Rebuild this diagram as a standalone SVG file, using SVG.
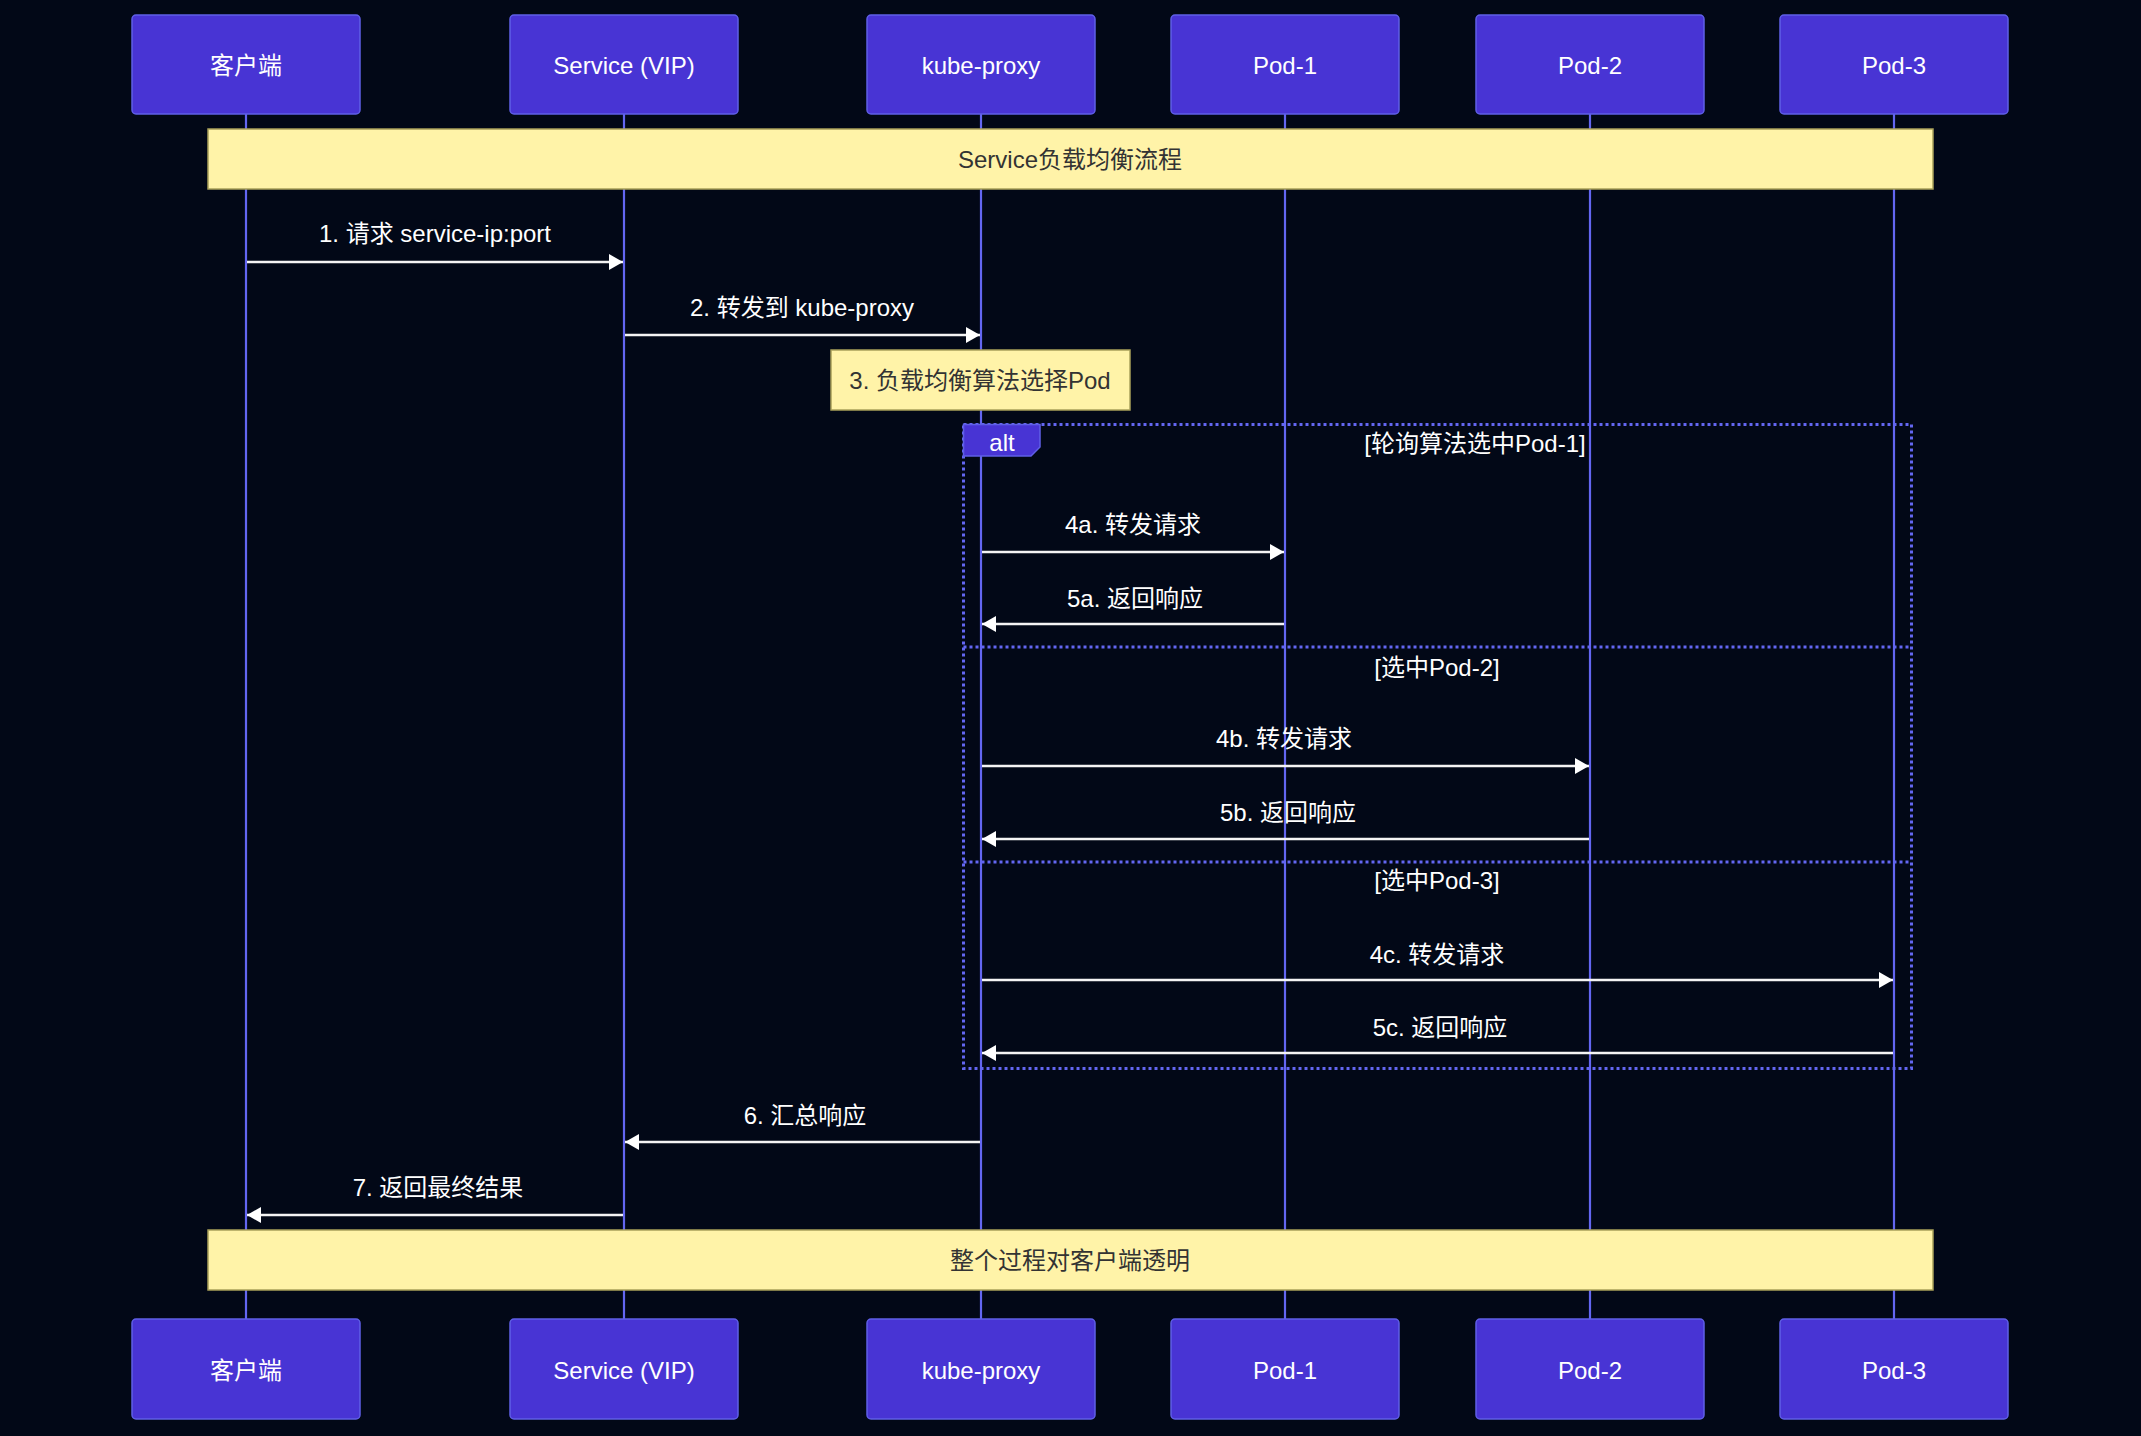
<svg xmlns="http://www.w3.org/2000/svg" width="2141" height="1436" viewBox="0 0 2141 1436">
<style>
text{font-family:"Liberation Sans","Noto Sans CJK SC",sans-serif;font-size:24px;dominant-baseline:central;text-anchor:middle}
.actor rect{fill:#4834d4;stroke:#5f5fe6;stroke-width:1.5}
.actor text{fill:#ffffff}
.life{stroke:#6366f1;stroke-width:2.2}
.note{fill:#fff3a8;stroke:#a9a05a;stroke-width:1.5}
.notetext{fill:#333333}
.msg{stroke:#f4f4f4;stroke-width:2.5;fill:none}
.msgtext{fill:#ffffff}
.frame{fill:none;stroke:#6366f1;stroke-width:3;stroke-dasharray:3,3}
</style>
<defs>
<marker id="arrow" markerUnits="userSpaceOnUse" markerWidth="14" markerHeight="16" viewBox="0 0 14 16" refX="14" refY="8" orient="auto">
<path d="M0,0 L14,8 L0,16 z" fill="#ffffff"/>
</marker>
</defs>
<rect x="0" y="0" width="2141" height="1436" fill="#020817"/>
<g id="lifelines">
<line class="life" x1="246" y1="114" x2="246" y2="1319"/>
<line class="life" x1="624" y1="114" x2="624" y2="1319"/>
<line class="life" x1="981" y1="114" x2="981" y2="1319"/>
<line class="life" x1="1285" y1="114" x2="1285" y2="1319"/>
<line class="life" x1="1590" y1="114" x2="1590" y2="1319"/>
<line class="life" x1="1894" y1="114" x2="1894" y2="1319"/>
</g>
<g id="actor-client-top" class="actor"><rect x="132" y="15" width="228" height="99" rx="4"/><text x="246" y="65">客户端</text></g>
<g id="actor-service-top" class="actor"><rect x="510" y="15" width="228" height="99" rx="4"/><text x="624" y="65">Service (VIP)</text></g>
<g id="actor-kubeproxy-top" class="actor"><rect x="867" y="15" width="228" height="99" rx="4"/><text x="981" y="65">kube-proxy</text></g>
<g id="actor-pod1-top" class="actor"><rect x="1171" y="15" width="228" height="99" rx="4"/><text x="1285" y="65">Pod-1</text></g>
<g id="actor-pod2-top" class="actor"><rect x="1476" y="15" width="228" height="99" rx="4"/><text x="1590" y="65">Pod-2</text></g>
<g id="actor-pod3-top" class="actor"><rect x="1780" y="15" width="228" height="99" rx="4"/><text x="1894" y="65">Pod-3</text></g>
<g id="note-title"><rect class="note" x="208" y="129" width="1725" height="60"/><text class="notetext" x="1070" y="159">Service负载均衡流程</text></g>
<g id="note-3"><rect class="note" x="831" y="350" width="299" height="60"/><text class="notetext" x="980" y="380">3. 负载均衡算法选择Pod</text></g>
<g id="alt-frame">
<rect class="frame" x="963.5" y="424.5" width="948" height="644"/>
<line class="frame" x1="963.5" y1="647" x2="1911.5" y2="647"/>
<line class="frame" x1="963.5" y1="862" x2="1911.5" y2="862"/>
<polygon points="963.5,424.5 1040,424.5 1040,447 1031,456 963.5,456" fill="#4834d4" stroke="#5f5fe6" stroke-width="1.5"/>
<text class="msgtext" x="1002" y="442">alt</text>
<text class="msgtext" x="1475" y="443">[轮询算法选中Pod-1]</text>
<text class="msgtext" x="1437" y="667">[选中Pod-2]</text>
<text class="msgtext" x="1437" y="880">[选中Pod-3]</text>
</g>
<g id="connectors">
<line class="msg" x1="247" y1="262" x2="623" y2="262" marker-end="url(#arrow)"/>
<text class="msgtext" x="435" y="233">1. 请求 service-ip:port</text>
<line class="msg" x1="625" y1="335" x2="980" y2="335" marker-end="url(#arrow)"/>
<text class="msgtext" x="802" y="307">2. 转发到 kube-proxy</text>
<line class="msg" x1="982" y1="552" x2="1284" y2="552" marker-end="url(#arrow)"/>
<text class="msgtext" x="1133" y="524">4a. 转发请求</text>
<line class="msg" x1="1284" y1="624" x2="982" y2="624" marker-end="url(#arrow)"/>
<text class="msgtext" x="1135" y="598">5a. 返回响应</text>
<line class="msg" x1="982" y1="766" x2="1589" y2="766" marker-end="url(#arrow)"/>
<text class="msgtext" x="1284" y="738">4b. 转发请求</text>
<line class="msg" x1="1589" y1="839" x2="982" y2="839" marker-end="url(#arrow)"/>
<text class="msgtext" x="1288" y="812">5b. 返回响应</text>
<line class="msg" x1="982" y1="980" x2="1893" y2="980" marker-end="url(#arrow)"/>
<text class="msgtext" x="1437" y="954">4c. 转发请求</text>
<line class="msg" x1="1893" y1="1053" x2="982" y2="1053" marker-end="url(#arrow)"/>
<text class="msgtext" x="1440" y="1027">5c. 返回响应</text>
<line class="msg" x1="980" y1="1142" x2="625" y2="1142" marker-end="url(#arrow)"/>
<text class="msgtext" x="805" y="1115">6. 汇总响应</text>
<line class="msg" x1="623" y1="1215" x2="247" y2="1215" marker-end="url(#arrow)"/>
<text class="msgtext" x="438" y="1187">7. 返回最终结果</text>
</g>
<g id="note-bottom"><rect class="note" x="208" y="1230" width="1725" height="60"/><text class="notetext" x="1070" y="1260">整个过程对客户端透明</text></g>
<g id="actor-client-bottom" class="actor"><rect x="132" y="1319" width="228" height="100" rx="4"/><text x="246" y="1370">客户端</text></g>
<g id="actor-service-bottom" class="actor"><rect x="510" y="1319" width="228" height="100" rx="4"/><text x="624" y="1370">Service (VIP)</text></g>
<g id="actor-kubeproxy-bottom" class="actor"><rect x="867" y="1319" width="228" height="100" rx="4"/><text x="981" y="1370">kube-proxy</text></g>
<g id="actor-pod1-bottom" class="actor"><rect x="1171" y="1319" width="228" height="100" rx="4"/><text x="1285" y="1370">Pod-1</text></g>
<g id="actor-pod2-bottom" class="actor"><rect x="1476" y="1319" width="228" height="100" rx="4"/><text x="1590" y="1370">Pod-2</text></g>
<g id="actor-pod3-bottom" class="actor"><rect x="1780" y="1319" width="228" height="100" rx="4"/><text x="1894" y="1370">Pod-3</text></g>
</svg>
